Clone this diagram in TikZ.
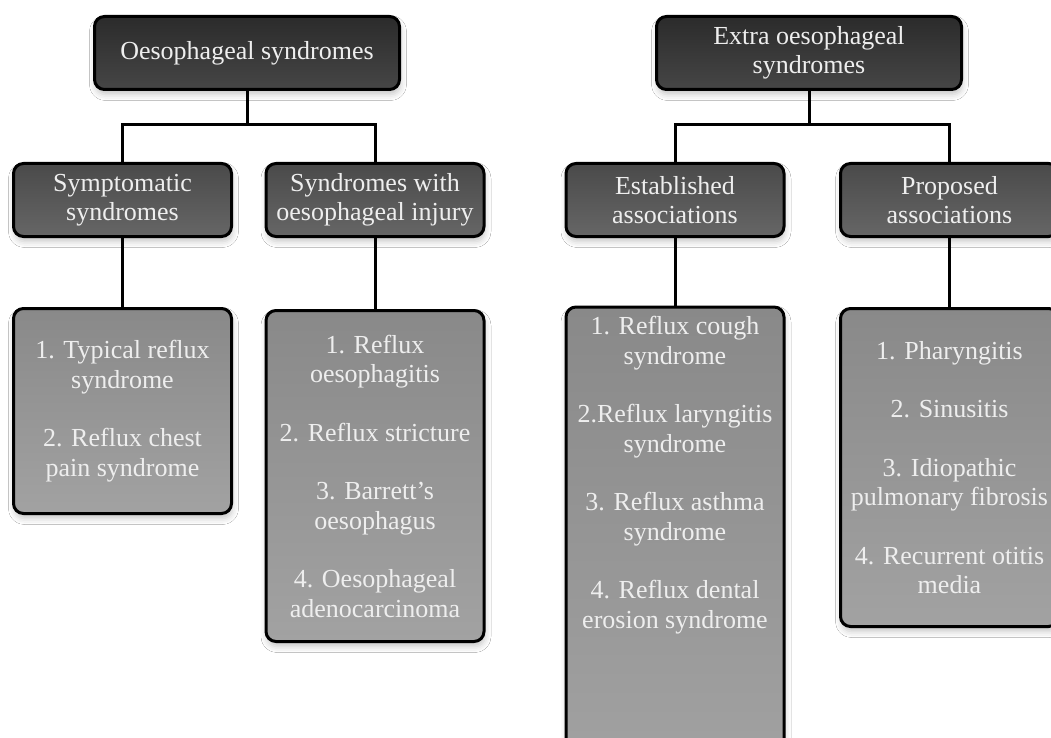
\documentclass[tikz,border=0pt]{standalone}
\usepackage{fontspec}
\setmainfont{Liberation Serif}
\usetikzlibrary{shadows.blur}

\definecolor{headtop}{HTML}{2B2B2B}
\definecolor{headbot}{HTML}{464646}
\definecolor{subtop}{HTML}{4A4A4A}
\definecolor{subbot}{HTML}{666666}
\definecolor{listtop}{HTML}{898989}
\definecolor{listbot}{HTML}{A2A2A2}
\definecolor{textgrey}{HTML}{EEEEEE}

\begin{document}
\begin{tikzpicture}[x=1pt,y=-1pt,
    box/.style={draw=black, line width=3pt, rounded corners=10pt,
        text=textgrey, align=center, font=\fontsize{26}{29.5}\selectfont,
        blur shadow={shadow xshift=1pt, shadow yshift=-5pt,
            shadow blur radius=6pt, shadow opacity=22}},
    head/.style={box, minimum width=305pt, minimum height=73pt,
        top color=headtop, bottom color=headbot},
    sub/.style={box, minimum width=218pt, minimum height=73pt,
        top color=subtop, bottom color=subbot},
    list/.style={box, minimum width=218pt, top color=listtop, bottom color=listbot},
    link/.style={line width=3pt}]

    \clip (0,0) rectangle (1051,738);
    \fill[white] (0,0) rectangle (1051,738);

    % left tree
    \node[head] (oes) at (247,53) {Oesophageal syndromes};
    \node[sub] (sympt) at (122.5,200) {Symptomatic\\syndromes};
    \node[sub] (injury) at (375,200) {Syndromes with\\oesophageal injury};
    \node[list, minimum height=205pt] (l1) at (122.5,411)
        {1. Typical reflux\\syndrome\\[29pt]2. Reflux chest\\pain syndrome};
    \node[list, minimum height=331pt] (l2) at (375,476)
        {1. Reflux\\oesophagitis\\[29pt]2. Reflux stricture\\[29pt]3. Barrett's\\oesophagus\\[29pt]4. Oesophageal\\adenocarcinoma};

    % right tree
    \node[head] (extra) at (809,53) {Extra oesophageal\\syndromes};
    \node[sub] (estab) at (675,200) {Established\\associations};
    \node[sub] (prop) at (949.5,200) {Proposed\\associations};
    \node[list, minimum height=470pt] (l3) at (675,542) {};
    \node[text=textgrey, align=center, font=\fontsize{26}{29.5}\selectfont] (l3text) at (675,475)
        {1. Reflux cough\\syndrome\\[29pt]2.Reflux laryngitis\\syndrome\\[29pt]3. Reflux asthma\\syndrome\\[29pt]4. Reflux dental\\erosion syndrome};
    \node[list, minimum height=318pt] (l4) at (949.5,467.5)
        {1. Pharyngitis\\[29pt]2. Sinusitis\\[29pt]3. Idiopathic\\pulmonary fibrosis\\[29pt]4. Recurrent otitis\\media};

    \draw[link] (oes.south) -- ++(0,34) -| (sympt.north);
    \draw[link] (oes.south) -- ++(0,34) -| (injury.north);
    \draw[link] (extra.south) -- ++(0,34) -| (estab.north);
    \draw[link] (extra.south) -- ++(0,34) -| (prop.north);
    \draw[link] (sympt) -- (l1);
    \draw[link] (injury) -- (l2);
    \draw[link] (estab) -- (l3);
    \draw[link] (prop) -- (l4);
\end{tikzpicture}
\end{document}
